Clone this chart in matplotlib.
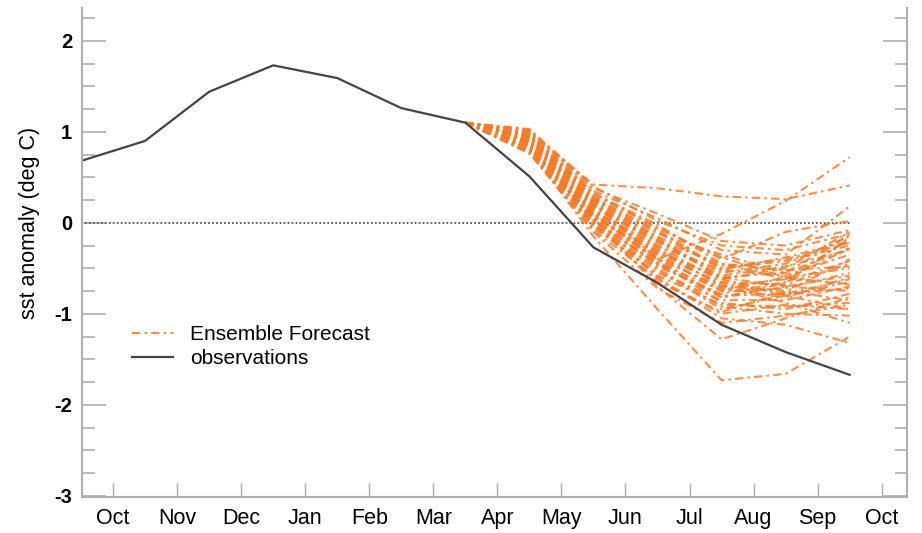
import matplotlib
matplotlib.use("Agg")
import matplotlib.pyplot as plt
from matplotlib.ticker import MultipleLocator

plt.rcParams['font.family'] = ['Liberation Sans', 'DejaVu Sans']

MONTHS = ["Oct", "Nov", "Dec", "Jan", "Feb", "Mar", "Apr",
          "May", "Jun", "Jul", "Aug", "Sep", "Oct"]

# observations, mid-month, Sep .. Sep
obs_x = [-0.5, 0.5, 1.5, 2.5, 3.5, 4.5, 5.5, 6.5, 7.5, 8.5, 9.5, 10.5, 11.5]
obs_y = [0.68, 0.90, 1.44, 1.73, 1.59, 1.26, 1.10, 0.51, -0.27, -0.66, -1.12, -1.42, -1.67]

# ensemble forecast, starting from the March observation (Mar .. Sep)
fc_x = [5.5, 6.5, 7.5, 8.5, 9.5, 10.5, 11.5]
ensemble = [
    [1.10, 1.00, 0.42, 0.38, 0.29, 0.26, 0.41],
    [1.10, 0.95, 0.22, -0.40, -0.12, 0.24, 0.72],
    [1.10, 0.80, -0.15, -0.95, -1.73, -1.66, -1.25],
    [1.10, 0.85, 0.05, -0.70, -1.28, -1.05, -0.82],
    [1.10, 1.02, 0.35, 0.05, -0.30, -0.35, 0.18],
    [1.10, 0.98, 0.30, -0.05, -0.40, -0.10, 0.02],
    [1.10, 0.92, 0.18, -0.20, -0.55, -0.45, -0.15],
    [1.10, 0.88, 0.12, -0.30, -0.62, -0.50, -0.10],
    [1.10, 0.95, 0.25, -0.15, -0.48, -0.40, -0.22],
    [1.10, 0.83, 0.08, -0.40, -0.70, -0.62, -0.28],
    [1.10, 0.90, 0.15, -0.35, -0.75, -0.72, -0.55],
    [1.10, 0.86, 0.02, -0.45, -0.80, -0.78, -0.62],
    [1.10, 0.78, -0.05, -0.55, -0.85, -0.85, -0.70],
    [1.10, 0.93, 0.20, -0.25, -0.65, -0.68, -0.45],
    [1.10, 0.97, 0.28, -0.10, -0.52, -0.58, -0.35],
    [1.10, 0.81, 0.00, -0.50, -0.92, -1.00, -1.02],
    [1.10, 0.89, 0.10, -0.42, -0.88, -0.95, -0.78],
    [1.10, 0.84, 0.05, -0.60, -1.05, -1.12, -1.32],
    [1.10, 0.76, -0.08, -0.62, -1.00, -0.90, -0.95],
    [1.10, 0.99, 0.32, -0.02, -0.45, -0.62, -0.18],
    [1.10, 0.91, 0.17, -0.28, -0.70, -0.75, -0.85],
    [1.10, 0.87, 0.09, -0.38, -0.72, -0.82, -0.60],
    [1.10, 0.94, 0.22, -0.18, -0.60, -0.70, -0.75],
    [1.10, 0.82, 0.04, -0.48, -0.78, -0.65, -0.42],
    [1.10, 0.96, 0.26, -0.12, -0.35, -0.55, -0.13],
    [1.10, 0.79, -0.02, -0.52, -0.95, -0.80, -0.65],
    [1.10, 0.90, 0.14, -0.32, -0.68, -0.88, -1.10],
    [1.10, 1.01, 0.38, 0.10, -0.20, -0.25, -0.08],
    [1.10, 0.85, 0.06, -0.44, -0.74, -0.60, -0.50],
    [1.10, 0.92, 0.19, -0.22, -0.58, -0.48, -0.30],
    [1.10, 0.88, 0.11, -0.36, -0.66, -0.78, -0.72],
    [1.10, 0.80, -0.04, -0.58, -0.90, -0.92, -0.88],
    [1.10, 0.97, 0.27, -0.08, -0.50, -0.42, -0.25],
    [1.10, 0.83, 0.03, -0.46, -0.82, -0.70, -0.58],
    [1.10, 0.95, 0.24, -0.16, -0.62, -0.80, -0.95],
    [1.10, 1.03, 0.40, 0.02, -0.25, -0.30, -0.12],
    [1.10, 0.89, 0.13, -0.26, -0.52, -0.38, -0.20],
    [1.10, 0.84, 0.07, -0.33, -0.60, -0.55, -0.28],
    [1.10, 0.93, 0.21, -0.20, -0.45, -0.52, -0.48],
    [1.10, 0.81, -0.01, -0.65, -0.98, -0.76, -0.40],
    [1.10, 0.77, -0.10, -0.72, -1.10, -1.02, -0.90],
    [1.10, 0.98, 0.33, -0.06, -0.38, -0.60, -0.68],
    [1.10, 0.86, 0.08, -0.40, -0.82, -0.66, -0.16],
]

ORANGE = "#ff7a26"
GREY = "#b0b0b0"

fig = plt.figure(figsize=(9.22, 5.33), dpi=100)
ax = fig.add_axes([0.089, 0.068, 0.895, 0.917])

ax.plot([obs_x[0], obs_x[-1]], [0, 0], color="#555555", lw=1.3, ls=(0, (1, 1.2)))

for i, member in enumerate(ensemble):
    ax.plot(fc_x, member, color=ORANGE, lw=1.5, ls=(0, (4, 2, 1.2, 2)), alpha=0.85,
            label="Ensemble Forecast" if i == 0 else None)

ax.plot(obs_x, obs_y, color="#444444", lw=1.6, label="observations")

ax.set_xlim(-0.485, 12.4)
ax.set_ylim(-3.01, 2.36)

ax.set_xticks(range(len(MONTHS)))
ax.set_xticklabels(MONTHS, fontsize=15.5)
ax.yaxis.set_minor_locator(MultipleLocator(0.25))
ax.set_yticks([-3, -2, -1, 0, 1, 2])
ax.set_yticklabels(["-3", "-2", "-1", "0", "1", "2"], fontsize=14.5, fontweight="bold")

ax.tick_params(axis="y", which="major", direction="in", length=17, width=1.2,
               color=GREY, right=True, pad=7)
ax.tick_params(axis="y", which="minor", direction="in", length=9, width=1.2,
               color=GREY, right=True)
ax.tick_params(axis="x", which="major", direction="in", length=10, width=1.0,
               color=GREY, pad=8)

for side in ["left", "right", "bottom"]:
    ax.spines[side].set_color(GREY)
    ax.spines[side].set_linewidth(1.5)
ax.spines["top"].set_visible(False)

ax.set_ylabel("sst anomaly (deg C)", fontsize=15.5)
ax.yaxis.set_label_coords(-0.051, 0.5605)

ax.legend(loc="upper left", bbox_to_anchor=(0.06, 0.351), frameon=False,
          borderaxespad=0, borderpad=0, fontsize=15, handlelength=2.0,
          handletextpad=0.8, labelspacing=0.25)

fig.savefig("out.png", dpi=100)
